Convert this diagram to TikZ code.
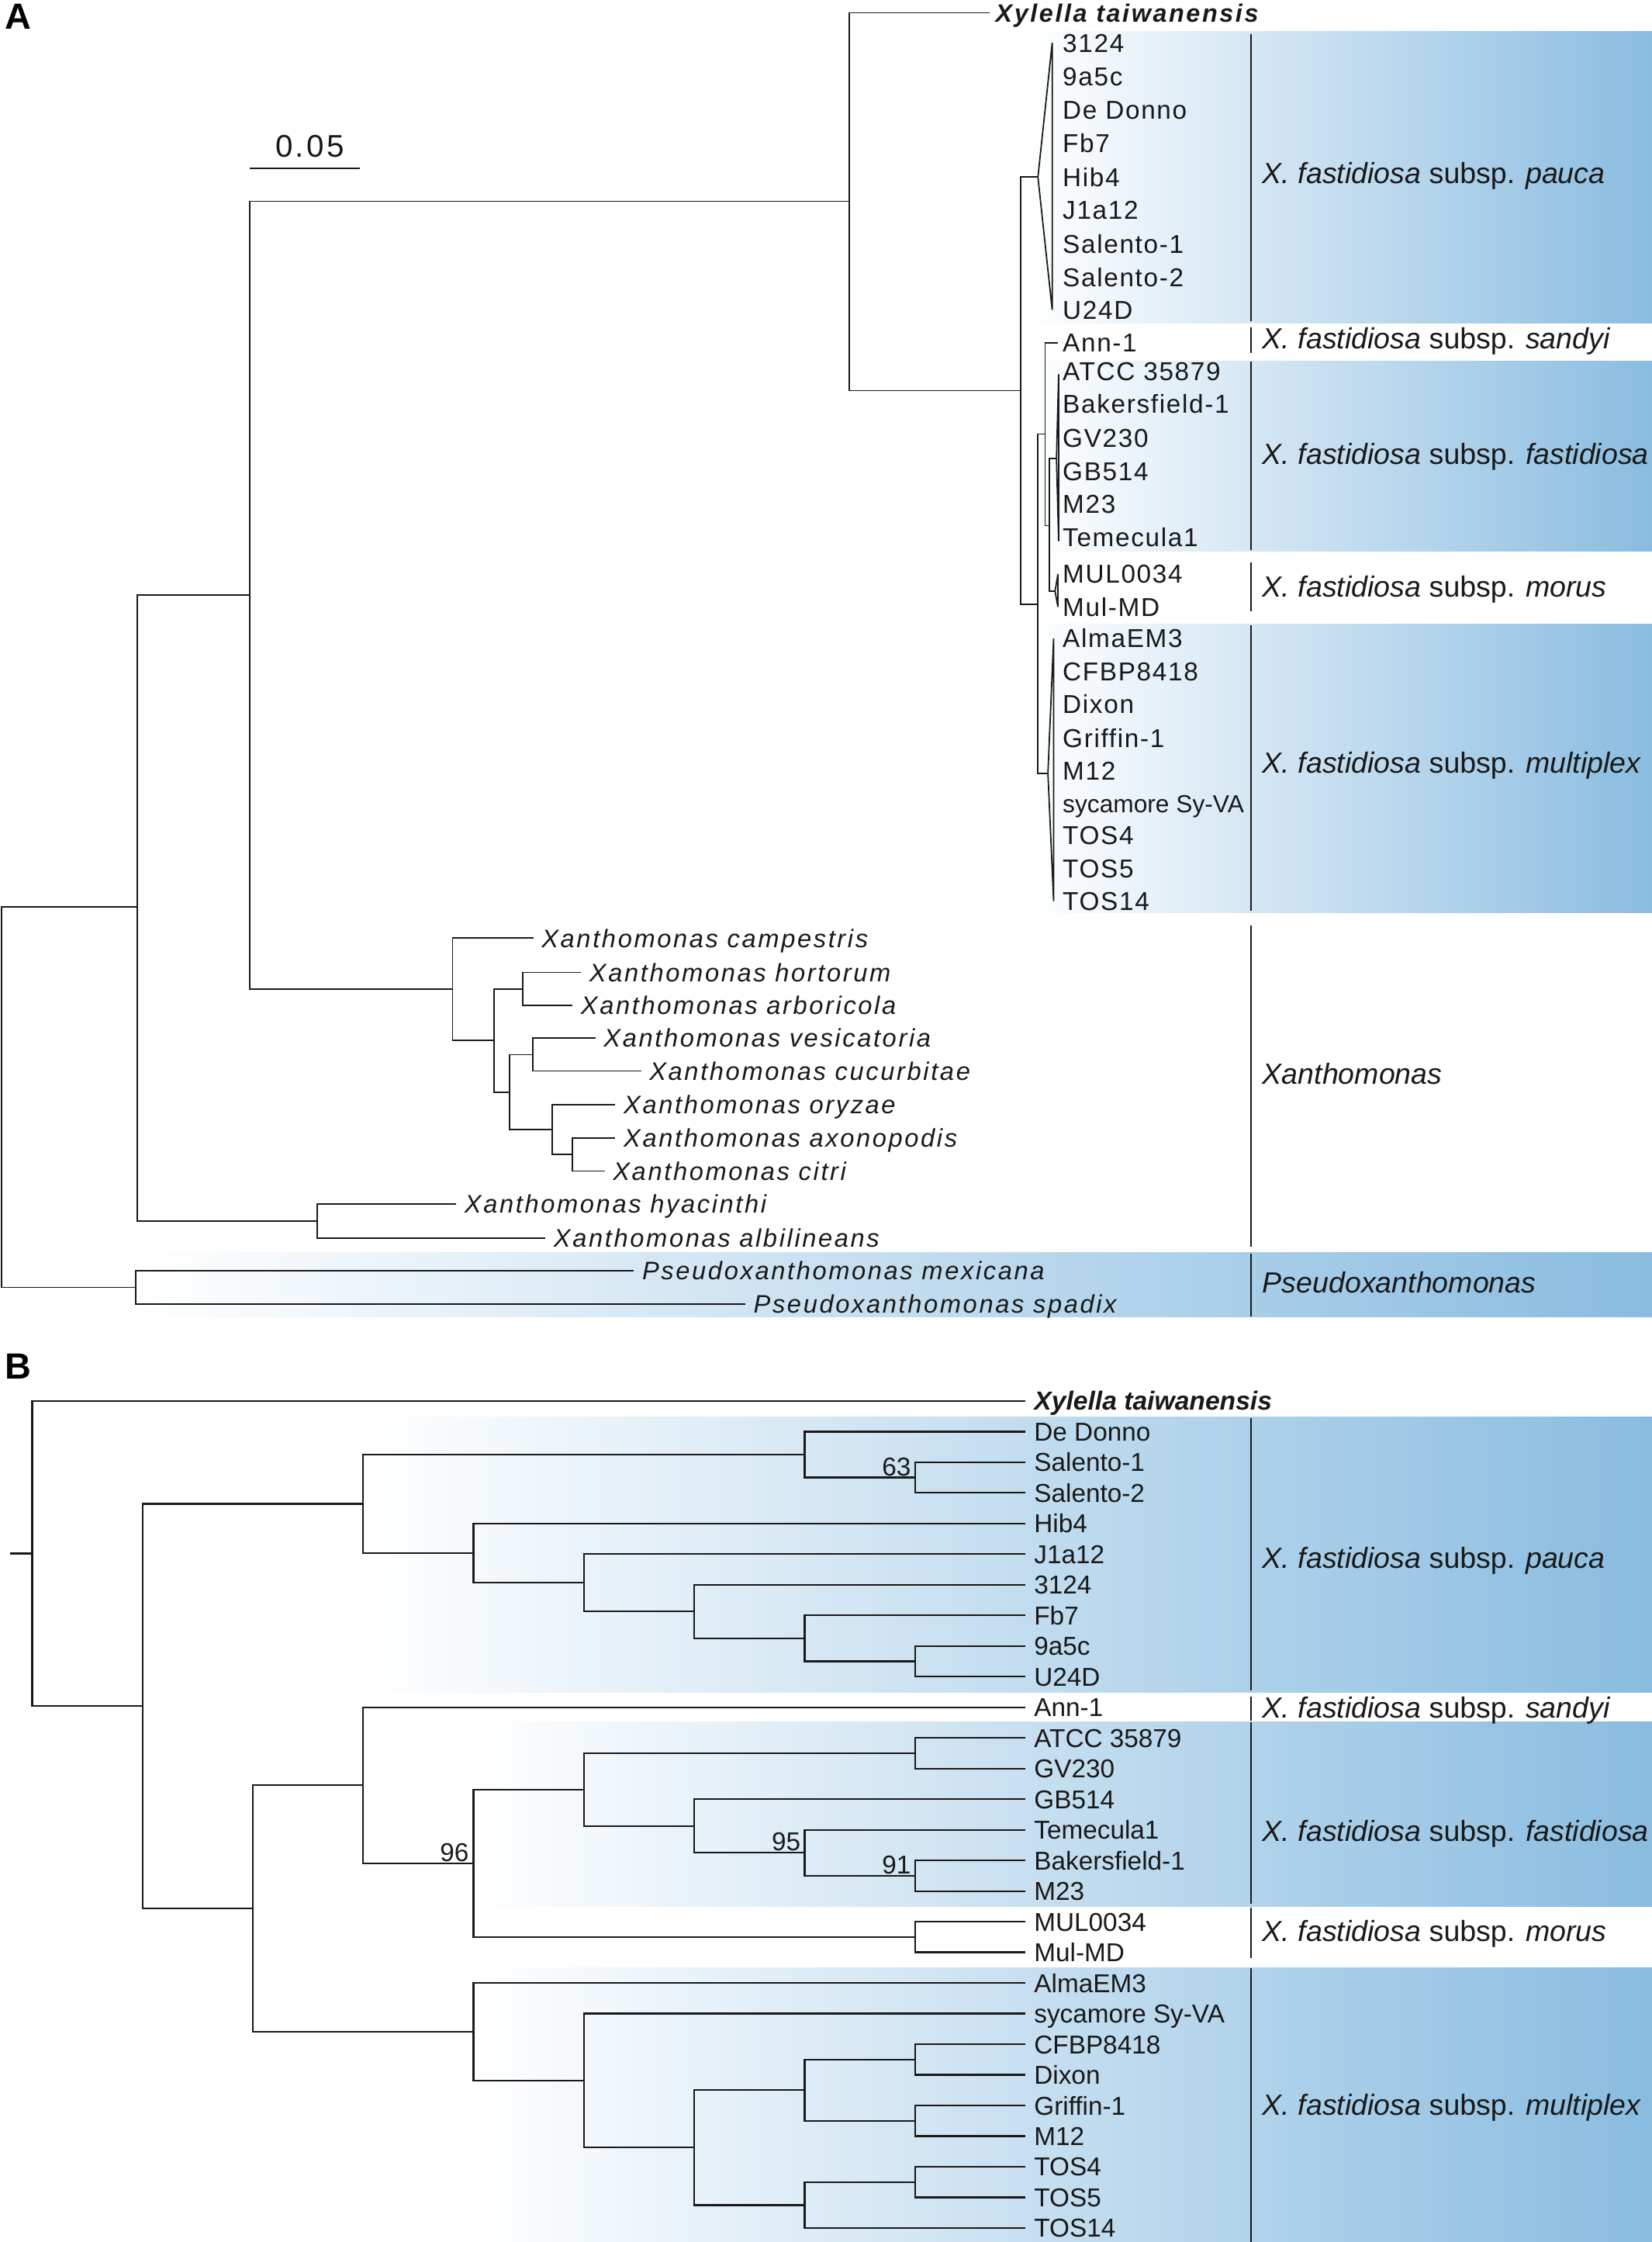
\documentclass[tikz,border=0pt]{standalone}
\usepackage{fontspec}
\setmainfont{Liberation Sans}
\newfontfamily\trk[LetterSpace=5]{Liberation Sans}
\newfontfamily\trkx[LetterSpace=8]{Liberation Sans}
\definecolor{bandblue}{RGB}{137,188,224}
\definecolor{ink}{RGB}{25,25,25}
\def\LB#1{22.5+77.3*#1}
\def\RB#1{1002.5+21.45*(#1)}
\begin{document}
\begin{tikzpicture}[x=0.2mm,y=-0.2mm,
  treeA/.style={line width=0.55pt, draw=ink},
  treeB/.style={line width=0.7pt, draw=ink},
  sepline/.style={line width=0.6pt, draw=ink},
  band/.style={left color=white, right color=bandblue},
  alab/.style={anchor=west, inner sep=0pt, text=ink, font=\trk\fontsize{10.3}{12}\selectfont, text height=7.4pt, text depth=0pt},
  alabn/.style={anchor=west, inner sep=0pt, text=ink, font=\fontsize{9.8}{11}\selectfont, text height=7.0pt, text depth=0pt},
  xlab/.style={anchor=west, inner sep=0pt, text=ink, font=\trkx\fontsize{10.1}{12}\selectfont\itshape, text height=7.2pt, text depth=0pt},
  blab/.style={anchor=west, inner sep=0pt, text=ink, font=\fontsize{10.3}{12}\selectfont, text height=7.4pt, text depth=0pt},
  clab/.style={anchor=west, inner sep=0pt, text=ink, font=\fontsize{11.6}{13}\selectfont, text height=8.3pt, text depth=0pt},
  boot/.style={anchor=south east, inner sep=0pt, text=ink, font=\fontsize{10.3}{12}\selectfont, text height=7.4pt, text depth=0pt},
  plab/.style={inner sep=0pt, text=black, font=\bfseries\fontsize{14.5}{16}\selectfont, text height=10.4pt, text depth=0pt}
]
\useasboundingbox (0,0) rectangle (1157,1570);

% ================= PANEL A =================
\shade[band] (720,22) rectangle (1157,226);
\shade[band] (720,253) rectangle (1157,386);
\shade[band] (720,437) rectangle (1157,639);
\shade[band] (96,877) rectangle (1157,922);

\draw[sepline] (876,24) -- (876,225);
\draw[sepline] (876,229) -- (876,247);
\draw[sepline] (876,253) -- (876,385);
\draw[sepline] (876,394) -- (876,428);
\draw[sepline] (876,438) -- (876,638);
\draw[sepline] (876,648) -- (876,873);
\draw[sepline] (876,878) -- (876,922);

\node[plab] (pA) at (12.5,11) {A};

% scale bar
\coordinate (sb1) at (175,118);
\coordinate (sb2) at (252,118);
\draw[treeA] (sb1) -- (sb2);
\node[inner sep=0pt, text=ink, font=\trkx\fontsize{12.5}{14}\selectfont, text height=9pt, text depth=0pt] (sbl) at (217,102) {0.05};

% coordinates (inner nodes and leaf ends)
\coordinate (aR) at (1,768.25);
\coordinate (a1) at (96,635);
\coordinate (a2) at (175,416.5);
\coordinate (aXf) at (595,141);
\coordinate (aTai) at (693,9);
\coordinate (aC) at (715,273.5);
\coordinate (aPa) at (727,124);
\coordinate (aD) at (727,423);
\coordinate (aMx) at (734,541.5);
\coordinate (aE) at (732,304);
\coordinate (aAnn) at (741,240);
\coordinate (aF) at (735,368);
\coordinate (aFa) at (740,321);
\coordinate (aMo) at (739,414);
\coordinate (aXa) at (317,692.5);
\coordinate (acam) at (373.6,657);
\coordinate (aG) at (346,728.5);
\coordinate (aH) at (366,692.5);
\coordinate (ahor) at (407,681);
\coordinate (aarb) at (401,704);
\coordinate (aI) at (357,765);
\coordinate (aJ) at (373,738.5);
\coordinate (aves) at (417,727);
\coordinate (acuc) at (449,750);
\coordinate (aK) at (387,791);
\coordinate (aory) at (431,773.5);
\coordinate (aL) at (401,808.5);
\coordinate (aaxo) at (431,797);
\coordinate (acit) at (423.5,820);
\coordinate (aHy) at (222,855);
\coordinate (ahya) at (319.5,843);
\coordinate (aalb) at (382,867);
\coordinate (aP) at (95,901.5);
\coordinate (amex) at (444,890);
\coordinate (aspa) at (522,913);

\foreach \p/\c in {aR/a1, aR/aP, a1/a2, a1/aHy, a2/aXf, a2/aXa, aXf/aTai, aXf/aC,
  aC/aPa, aC/aD, aD/aE, aD/aMx, aE/aAnn, aE/aF, aF/aFa, aF/aMo,
  aXa/acam, aXa/aG, aG/aH, aG/aI, aH/ahor, aH/aarb, aI/aJ, aI/aK,
  aJ/aves, aJ/acuc, aK/aory, aK/aL, aL/aaxo, aL/acit,
  aHy/ahya, aHy/aalb, aP/amex, aP/aspa}
  \draw[treeA] (\p) |- (\c);

% collapsed clades (triangles)
\coordinate (tPa1) at (737,30);  \coordinate (tPa2) at (737,217);
\coordinate (tMx1) at (738,447); \coordinate (tMx2) at (738,631);
\coordinate (tFa1) at (741.5,262); \coordinate (tFa2) at (741.5,379);
\coordinate (tMo1) at (741,402); \coordinate (tMo2) at (741,425);
\draw[treeA] (aPa) -- (tPa1) -- (tPa2) -- cycle;
\draw[treeA] (aMx) -- (tMx1) -- (tMx2) -- cycle;
\draw[treeA] (aFa) -- (tFa1) -- (tFa2) -- cycle;
\draw[treeA] (aMo) -- (tMo1) -- (tMo2) -- cycle;

% labels A
\node[alab, font=\trkx\fontsize{10}{12}\selectfont\bfseries\itshape] (aTaiL) at (697,9) {Xylella taiwanensis};
\foreach \t/\y [count=\i] in {3124/30, 9a5c/53.5, De Donno/77, Fb7/100, Hib4/124, J1a12/147,
  Salento-1/171, Salento-2/194, U24D/217, Ann-1/240, ATCC 35879/260, Bakersfield-1/283,
  GV230/306.5, GB514/330, M23/353, Temecula1/376, MUL0034/402, Mul-MD/425,
  AlmaEM3/447, CFBP8418/470, Dixon/493, Griffin-1/517, M12/540}
  \node[alab] (al\i) at (744,\y) {\t};
\node[alabn] (alsy) at (744,563) {sycamore Sy-VA};
\node[alab] (alT4) at (744,585) {TOS4};
\node[alab] (alT5) at (744,608) {TOS5};
\node[alab] (alT14) at (744,631) {TOS14};

\node[xlab] (xcam) at (379,657) {Xanthomonas campestris};
\node[xlab] (xhor) at (412.5,681) {Xanthomonas hortorum};
\node[xlab] (xarb) at (406.5,704) {Xanthomonas arboricola};
\node[xlab] (xves) at (422.5,727) {Xanthomonas vesicatoria};
\node[xlab] (xcuc) at (454.5,750) {Xanthomonas cucurbitae};
\node[xlab] (xory) at (436.5,773.5) {Xanthomonas oryzae};
\node[xlab] (xaxo) at (436.5,797) {Xanthomonas axonopodis};
\node[xlab] (xcit) at (429,820) {Xanthomonas citri};
\node[xlab] (xhya) at (325,843) {Xanthomonas hyacinthi};
\node[xlab] (xalb) at (387.5,867) {Xanthomonas albilineans};
\node[xlab] (xmex) at (449.5,890) {Pseudoxanthomonas mexicana};
\node[xlab] (xspa) at (527.5,913) {Pseudoxanthomonas spadix};

\node[clab] (cApa) at (884,121) {\textit{X. fastidiosa} subsp. \textit{pauca}};
\node[clab] (cAsa) at (884,237) {\textit{X. fastidiosa} subsp. \textit{sandyi}};
\node[clab] (cAfa) at (884,318) {\textit{X. fastidiosa} subsp. \textit{fastidiosa}};
\node[clab] (cAmo) at (884,411) {\textit{X. fastidiosa} subsp. \textit{morus}};
\node[clab] (cAmu) at (884,534) {\textit{X. fastidiosa} subsp. \textit{multiplex}};
\node[clab] (cAxa) at (884,752) {\textit{Xanthomonas}};
\node[clab] (cAps) at (884,898) {\textit{Pseudoxanthomonas}};

% ================= PANEL B =================
\shade[band] (255,992) rectangle (1157,1185);
\shade[band] (330,1206) rectangle (1157,1335);
\shade[band] (330,1378) rectangle (1157,1570);

\draw[sepline] (876,993) -- (876,1184);
\draw[sepline] (876,1188) -- (876,1205);
\draw[sepline] (876,1206) -- (876,1333);
\draw[sepline] (876,1336) -- (876,1371);
\draw[sepline] (876,1378) -- (876,1570);

\node[plab] (pB) at (12.5,956.5) {B};

\coordinate (bStub) at (6.8,{\RB{3.9824}});
\coordinate (bRoot) at ({\LB{0}},{\RB{3.9824}});
\coordinate (bL1) at ({\LB{1}},{\RB{8.9648}});
\coordinate (bL2) at ({\LB{2}},{\RB{15.5703}});
\coordinate (bPauca) at ({\LB{3}},{\RB{2.359375}});
\coordinate (bDS) at ({\LB{7}},{\RB{0.75}});
\coordinate (bS) at ({\LB{8}},{\RB{1.5}});
\coordinate (bHib) at ({\LB{4}},{\RB{3.96875}});
\coordinate (bJ) at ({\LB{5}},{\RB{4.9375}});
\coordinate (b3124) at ({\LB{6}},{\RB{5.875}});
\coordinate (bFb) at ({\LB{7}},{\RB{6.75}});
\coordinate (bUV) at ({\LB{8}},{\RB{7.5}});
\coordinate (bSan) at ({\LB{3}},{\RB{11.546875}});
\coordinate (b96) at ({\LB{4}},{\RB{14.09375}});
\coordinate (bFas) at ({\LB{5}},{\RB{11.6875}});
\coordinate (bAG) at ({\LB{8}},{\RB{10.5}});
\coordinate (bGB) at ({\LB{6}},{\RB{12.875}});
\coordinate (bTe) at ({\LB{7}},{\RB{13.75}});
\coordinate (bBM) at ({\LB{8}},{\RB{14.5}});
\coordinate (bMor) at ({\LB{8}},{\RB{16.5}});
\coordinate (bMul) at ({\LB{4}},{\RB{19.59375}});
\coordinate (bSyc) at ({\LB{5}},{\RB{21.1875}});
\coordinate (bM6) at ({\LB{6}},{\RB{23.375}});
\coordinate (bCG) at ({\LB{7}},{\RB{21.5}});
\coordinate (bCD) at ({\LB{8}},{\RB{20.5}});
\coordinate (bGM) at ({\LB{8}},{\RB{22.5}});
\coordinate (bTOS) at ({\LB{7}},{\RB{25.25}});
\coordinate (bT45) at ({\LB{8}},{\RB{24.5}});

\coordinate (beX) at (718,{\RB{-1}});
\node[blab, font=\fontsize{10.4}{12}\selectfont\bfseries\itshape] (blX) at (724,{\RB{-1}}) {Xylella taiwanensis};
\foreach \t [count=\k from 0] in {De Donno, Salento-1, Salento-2, Hib4, J1a12, 3124, Fb7, 9a5c, U24D,
  Ann-1, ATCC 35879, GV230, GB514, Temecula1, Bakersfield-1, M23, MUL0034, Mul-MD,
  AlmaEM3, sycamore Sy-VA, CFBP8418, Dixon, Griffin-1, M12, TOS4, TOS5, TOS14} {
  \coordinate (be\k) at (718,{\RB{\k}});
  \node[blab] (bl\k) at (724,{\RB{\k}}) {\t};
}

\draw[treeB] (bStub) -- (bRoot);
\foreach \p/\c in {bRoot/beX, bRoot/bL1, bL1/bPauca, bL1/bL2,
  bPauca/bDS, bPauca/bHib, bDS/be0, bDS/bS, bS/be1, bS/be2,
  bHib/be3, bHib/bJ, bJ/be4, bJ/b3124, b3124/be5, b3124/bFb, bFb/be6, bFb/bUV, bUV/be7, bUV/be8,
  bL2/bSan, bL2/bMul, bSan/be9, bSan/b96, b96/bFas, b96/bMor,
  bFas/bAG, bFas/bGB, bAG/be10, bAG/be11, bGB/be12, bGB/bTe, bTe/be13, bTe/bBM, bBM/be14, bBM/be15,
  bMor/be16, bMor/be17,
  bMul/be18, bMul/bSyc, bSyc/be19, bSyc/bM6, bM6/bCG, bM6/bTOS, bCG/bCD, bCG/bGM,
  bCD/be20, bCD/be21, bGM/be22, bGM/be23, bTOS/bT45, bTOS/be26, bT45/be24, bT45/be25}
  \draw[treeB] (\p) |- (\c);

\node[boot] (n63) at ({\LB{8}-2.5},{\RB{1.5}-1}) {63};
\node[boot] (n96) at ({\LB{4}-3},{\RB{14.09375}-1}) {96};
\node[boot] (n95) at ({\LB{7}-2.5},{\RB{13.75}-1}) {95};
\node[boot] (n91) at ({\LB{8}-2.5},{\RB{14.5}-1}) {91};

\node[clab] (cBpa) at (884,1091) {\textit{X. fastidiosa} subsp. \textit{pauca}};
\node[clab] (cBsa) at (884,1195.5) {\textit{X. fastidiosa} subsp. \textit{sandyi}};
\node[clab] (cBfa) at (884,1282) {\textit{X. fastidiosa} subsp. \textit{fastidiosa}};
\node[clab] (cBmo) at (884,1352) {\textit{X. fastidiosa} subsp. \textit{morus}};
\node[clab] (cBmu) at (884,1474) {\textit{X. fastidiosa} subsp. \textit{multiplex}};
\end{tikzpicture}
\end{document}
